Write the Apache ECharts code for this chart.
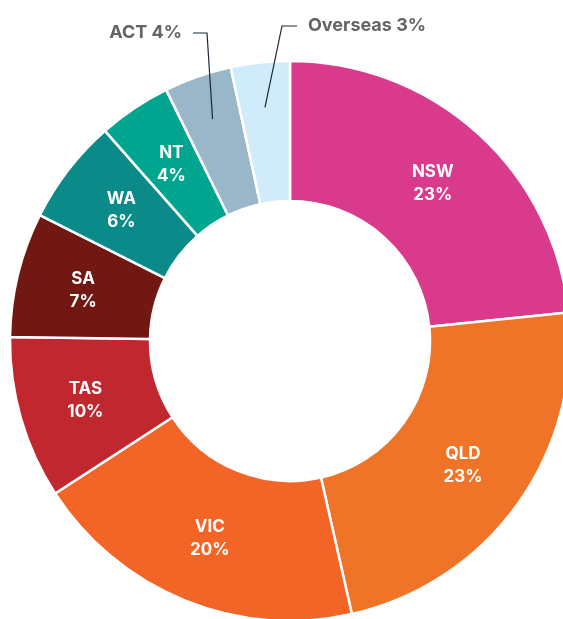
<!DOCTYPE html>
<html>
<head>
<meta charset="utf-8">
<script src="https://cdn.jsdelivr.net/npm/echarts@6/dist/echarts.min.js"></script>
<style>
html,body{margin:0;padding:0;background:#fff;}
#main{width:563px;height:619px;}
</style>
</head>
<body>
<div id="main"></div>
<script>
// data (share of total, clockwise from 12 o'clock)
const regions = ['NSW', 'QLD', 'VIC', 'TAS', 'SA', 'WA', 'NT', 'ACT', 'Overseas'];
const shares = [23.4, 23.1, 19.4, 9.4, 7.2, 6.1, 4.2, 3.9, 3.4];
const shareLabels = ['23%', '23%', '20%', '10%', '7%', '6%', '4%', '4%', '3%'];
const outsideRegions = ['ACT', 'Overseas'];

const colors = ['#D93A8C', '#F07427', '#F26527', '#C1272F', '#721812', '#0B8A8A', '#00A590', '#9AB7C9', '#D0EBFA'];

const center = [290, 341];
const innerR = 140;
const outerR = 280;
const fontFam = 'Inter, "Open Sans", sans-serif';

const chart = echarts.init(document.getElementById('main'));

/* 主环：扇区 + 内部标签 */
const ringData = regions.map((name, i) => {
    const item = { name: name, value: shares[i], itemStyle: { color: colors[i] } };
    if (outsideRegions.indexOf(name) > -1) {
        item.label = { show: false };
    }
    return item;
});

/* 透明的一层，只画外部标签和引线，放在上面 */
const overlayData = regions.map((name, i) => {
    const isOut = outsideRegions.indexOf(name) > -1;
    return {
        name: name,
        value: shares[i],
        label: { show: isOut },
        labelLine: { show: isOut }
    };
});

const option = {
    animation: false,
    series: [
        {
            type: 'pie',
            z: 2,
            center: center,
            radius: [innerR, outerR],
            startAngle: 90,
            clockwise: true,
            avoidLabelOverlap: false,
            itemStyle: {
                borderColor: '#fff',
                borderWidth: 2.5
            },
            label: {
                show: true,
                position: 'inside',
                formatter: (p) => p.name + '\n' + shareLabels[p.dataIndex],
                color: '#fff',
                fontFamily: fontFam,
                fontWeight: 'bold',
                fontSize: 17,
                lineHeight: 23,
                align: 'center'
            },
            labelLine: { show: false },
            data: ringData
        },
        {
            type: 'pie',
            z: 5,
            silent: true,
            center: center,
            radius: [innerR, outerR],
            startAngle: 90,
            clockwise: true,
            avoidLabelOverlap: false,
            itemStyle: {
                color: 'rgba(0,0,0,0)',
                borderWidth: 0
            },
            label: {
                position: 'outside',
                formatter: (p) => p.name + ' ' + shareLabels[p.dataIndex],
                color: '#646464',
                fontFamily: fontFam,
                fontWeight: 'bold',
                fontSize: 18,
                lineHeight: 22
            },
            labelLine: {
                lineStyle: { color: '#1c2836', width: 1.2 }
            },
            labelLayout: function (params) {
                const name = regions[params.dataIndex];
                if (outsideRegions.indexOf(name) < 0) return {};
                const pts = params.labelLinePoints;
                if (!pts) return {};
                // 引线起点拉进扇区里面
                const k = 235 / outerR;
                const p0 = [center[0] + (pts[0][0] - center[0]) * k, center[1] + (pts[0][1] - center[1]) * k];
                if (name === 'ACT') {
                    const lx = 182, ly = 33;
                    return {
                        x: lx, y: ly, align: 'right', verticalAlign: 'middle',
                        labelLinePoints: [p0, [lx + 25, ly], [lx + 11, ly]]
                    };
                } else {
                    const lx = 308, ly = 26;
                    return {
                        x: lx, y: ly, align: 'left', verticalAlign: 'middle',
                        labelLinePoints: [p0, [lx - 26, ly], [lx - 11, ly]]
                    };
                }
            },
            data: overlayData
        }
    ]
};

chart.setOption(option);
</script>
</body>
</html>
